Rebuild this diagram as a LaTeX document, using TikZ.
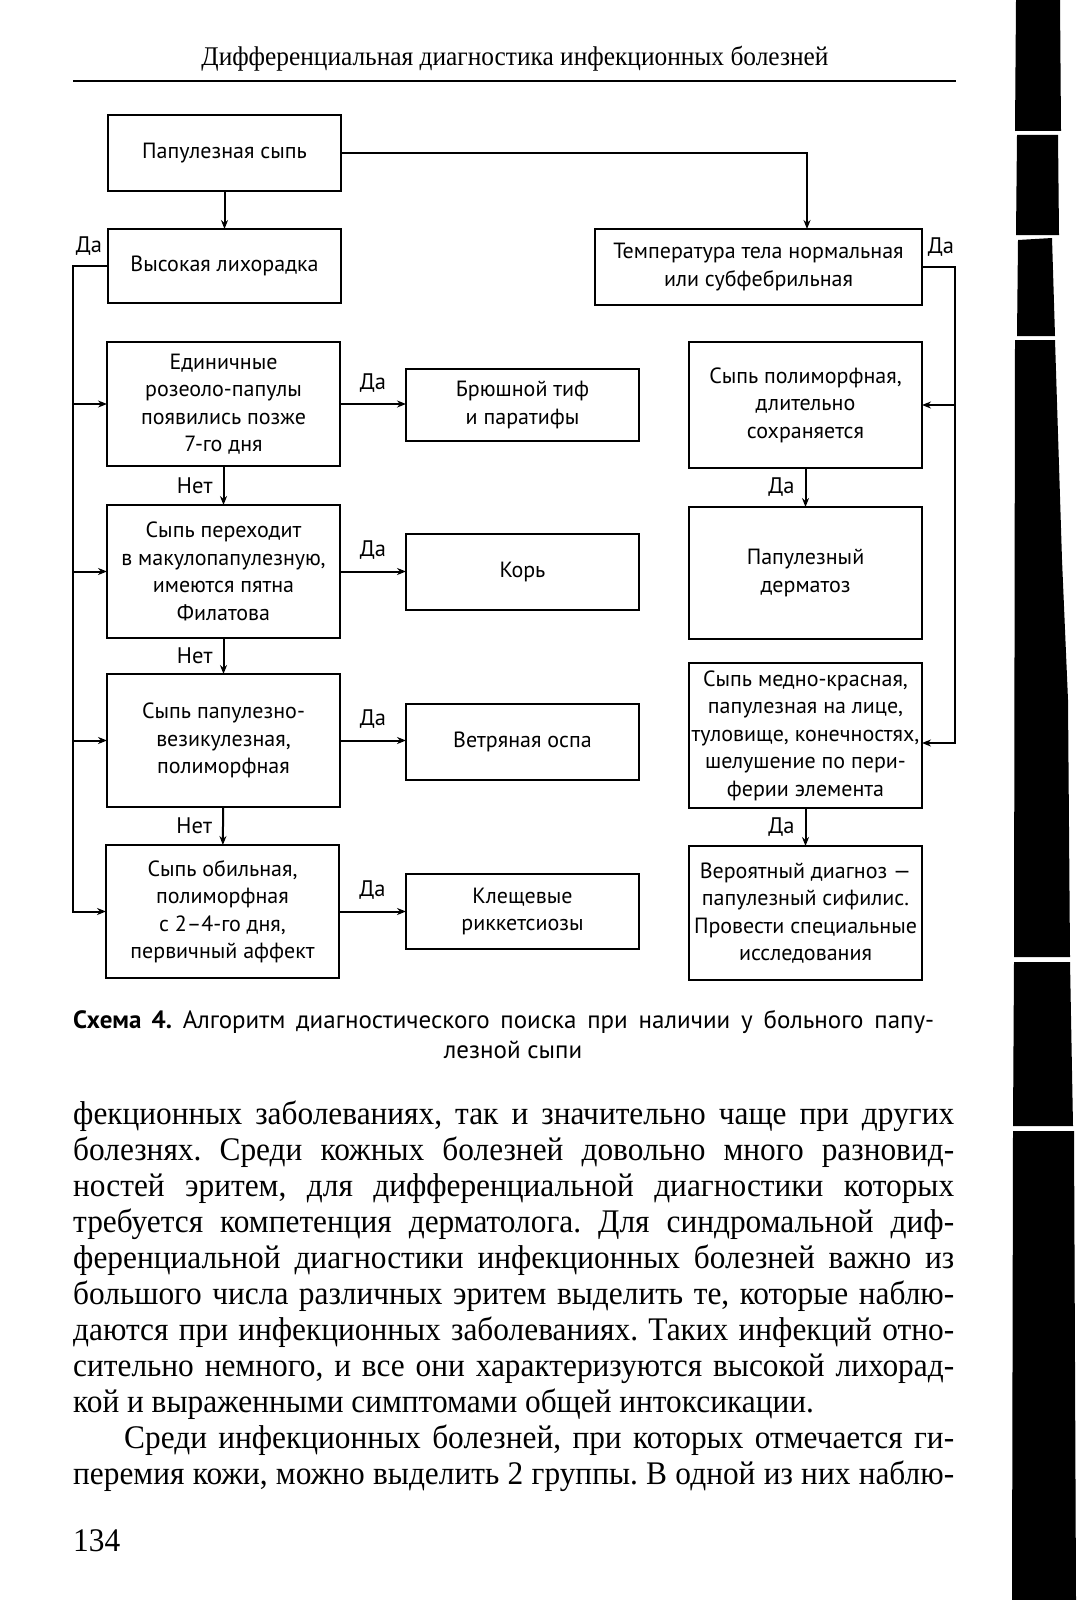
\documentclass[tikz,border=0pt]{standalone}
\usepackage{fontspec}
\setmainfont{Liberation Serif}
\newfontfamily\boxfont{PT Sans}
\newfontfamily\bodyfont[FakeStretch=0.95]{Liberation Serif}
\newfontfamily\hdrfont[FakeStretch=0.94]{Liberation Serif}
\usetikzlibrary{arrows.meta}
\frenchspacing
\begin{document}
\begin{tikzpicture}[x=1pt,y=-1pt,
  box/.style={draw, line width=2.3pt, rectangle, inner sep=0pt, outer sep=0pt,
    minimum width=233pt, align=center, font=\boxfont\fontsize{22}{27.5}\selectfont},
  arr/.style={line width=2pt, -{Stealth[length=9pt,width=7pt]}},
  rule/.style={line width=2.2pt},
  lbl/.style={font=\boxfont\fontsize{22.5}{24}\selectfont, inner sep=2pt},
  bodyline/.style={anchor=base west, inner sep=0pt, font=\bodyfont\fontsize{33}{36}\selectfont},
  capline/.style={inner sep=0pt, font=\boxfont\fontsize{25}{25}\selectfont},
  band/.style={fill=black, draw=none}]
\useasboundingbox (0,0) rectangle (1088,1600);
\fill[white] (0,0) rectangle (1088,1600);

% header
\node[anchor=base, inner sep=0pt, font=\hdrfont\fontsize{27}{27}\selectfont] (hdr) at (515,66)
  {Дифференциальная диагностика инфекционных болезней};
\draw[rule] (73,81) -- (956,81);

% boxes
\node[box, minimum height=76pt] (p0) at (224.5,153) {Папулезная сыпь};
\node[box, minimum height=74pt] (hi) at (224.5,266) {Высокая лихорадка};
\node[box, minimum width=327pt, minimum height=76pt] (tmp) at (758.5,267) {Температура тела нормальная\\или субфебрильная};
\node[box, minimum height=124pt] (L1) at (223.5,404) {Единичные\\розеоло-папулы\\появились позже\\7-го дня};
\node[box, minimum height=72pt] (R1) at (522.5,405) {Брюшной тиф\\и паратифы};
\node[box, minimum height=133pt] (L2) at (223.5,571.5) {Сыпь переходит\\в макулопапулезную,\\имеются пятна\\Филатова};
\node[box, minimum height=76pt] (R2) at (522.5,572) {Корь};
\node[box, minimum height=133pt] (L3) at (223.5,740.5) {Сыпь папулезно-\\везикулезная,\\полиморфная};
\node[box, minimum height=76pt] (R3) at (522.5,742) {Ветряная оспа};
\node[box, minimum height=133pt] (L4) at (222.5,911.5) {Сыпь обильная,\\полиморфная\\с 2–4-го дня,\\первичный аффект};
\node[box, minimum height=75pt] (R4) at (522.5,911.5) {Клещевые\\риккетсиозы};
\node[box, minimum height=126pt] (Q1) at (805.5,405) {Сыпь полиморфная,\\длительно\\сохраняется};
\node[box, minimum height=132pt] (Q2) at (805.5,573) {Папулезный\\дерматоз};
\node[box, minimum height=145pt] (Q3) at (805.5,735.5) {Сыпь медно-красная,\\папулезная на лице,\\туловище, конечностях,\\шелушение по пери-\\ферии элемента};
\node[box, minimum height=134pt] (Q4) at (805.5,913) {Вероятный диагноз —\\папулезный сифилис.\\Провести специальные\\исследования};

% trunk coordinates
\coordinate (tL) at (73,0);
\coordinate (tR) at (955,0);
\coordinate (tIn) at (807,229);
\coordinate (Q3in) at ([yshift=-7.5pt]Q3.east);

% connectors top
\draw[arr] (p0) -- (hi);
\draw[arr] (p0.east) -| (tIn);

% left trunk
\draw[arr] (hi.west) -- (hi.west -| tL) -- (L4.west -| tL) -- (L4.west);
\foreach \n in {L1,L2,L3} \draw[arr] (\n.west -| tL) -- (\n.west);
\node[lbl] (dhi) at (89,246) {Да};

% right trunk
\draw[arr] (tmp.east) -- (tmp.east -| tR) -- (Q3in -| tR) -- (Q3in);
\draw[arr] (Q1.east -| tR) -- (Q1.east);
\node[lbl] (dtmp) at (941,247) {Да};

% horizontal yes
\draw[arr] (L1.east) -- (L1.east -| R1.west) node[lbl, midway, yshift=21pt] {Да};
\draw[arr] (L2.east) -- (L2.east -| R2.west) node[lbl, midway, yshift=21pt] {Да};
\draw[arr] (L3.east) -- (L3.east -| R3.west) node[lbl, midway, yshift=21pt] {Да};
\draw[arr] (L4.east) -- (L4.east -| R4.west) node[lbl, midway, yshift=21pt] {Да};

% vertical no
\draw[arr] (L1) -- (L2) node[lbl, midway, left=8pt] {Нет};
\draw[arr] (L2) -- (L3) node[lbl, midway, left=8pt] {Нет};
\draw[arr] (L3) -- (L4) node[lbl, midway, left=8pt] {Нет};
\draw[arr] (Q1) -- (Q2) node[lbl, midway, left=8pt] {Да};
\draw[arr] (Q3) -- (Q4) node[lbl, midway, left=8pt] {Да};

% caption
\node[capline, anchor=base west] (cap1) at (73,1028)
  {\makebox[861pt][s]{\textbf{Схема 4.} Алгоритм диагностического поиска при наличии у больного папу-}};
\node[capline, anchor=base] (cap2) at (513,1058) {лезной сыпи};

% body text
\node[bodyline] (b1) at (73,1124) {\makebox[881pt][s]{фекционных заболеваниях, так и значительно чаще при других}};
\node[bodyline] (b2) at (73,1160) {\makebox[881pt][s]{болезнях. Среди кожных болезней довольно много разновид-}};
\node[bodyline] (b3) at (73,1196) {\makebox[881pt][s]{ностей эритем, для дифференциальной диагностики которых}};
\node[bodyline] (b4) at (73,1232) {\makebox[881pt][s]{требуется компетенция дерматолога. Для синдромальной диф-}};
\node[bodyline] (b5) at (73,1268) {\makebox[881pt][s]{ференциальной диагностики инфекционных болезней важно из}};
\node[bodyline] (b6) at (73,1304) {\makebox[881pt][s]{большого числа различных эритем выделить те, которые наблю-}};
\node[bodyline] (b7) at (73,1340) {\makebox[881pt][s]{даются при инфекционных заболеваниях. Таких инфекций отно-}};
\node[bodyline] (b8) at (73,1376) {\makebox[881pt][s]{сительно немного, и все они характеризуются высокой лихорад-}};
\node[bodyline] (b9) at (73,1412) {кой и выраженными симптомами общей интоксикации.};
\node[bodyline] (b10) at (124,1448) {\makebox[830pt][s]{Среди инфекционных болезней, при которых отмечается ги-}};
\node[bodyline] (b11) at (73,1484) {\makebox[881pt][s]{перемия кожи, можно выделить 2 группы. В одной из них наблю-}};
\node[bodyline] (pg) at (73,1551) {134};

% scan band on the right
\path[band] (1016,0) -- (1060,0) -- (1061,131) -- (1015,131) -- cycle;
\path[band] (1017,135) -- (1058,135) -- (1059,235) -- (1016,235) -- cycle;
\path[band] (1018,240) -- (1052,238) -- (1055,336) -- (1017,336) -- cycle;
\path[band] (1015,340) -- (1055,340) -- (1062,560) -- (1068,700) -- (1070,957) -- (1014,957) -- cycle;
\path[band] (1014,962) -- (1070,962) -- (1073,1126) -- (1013,1126) -- cycle;
\path[band] (1013,1131) -- (1074,1131) -- (1076,1600) -- (1012,1600) -- cycle;
\end{tikzpicture}
\end{document}
